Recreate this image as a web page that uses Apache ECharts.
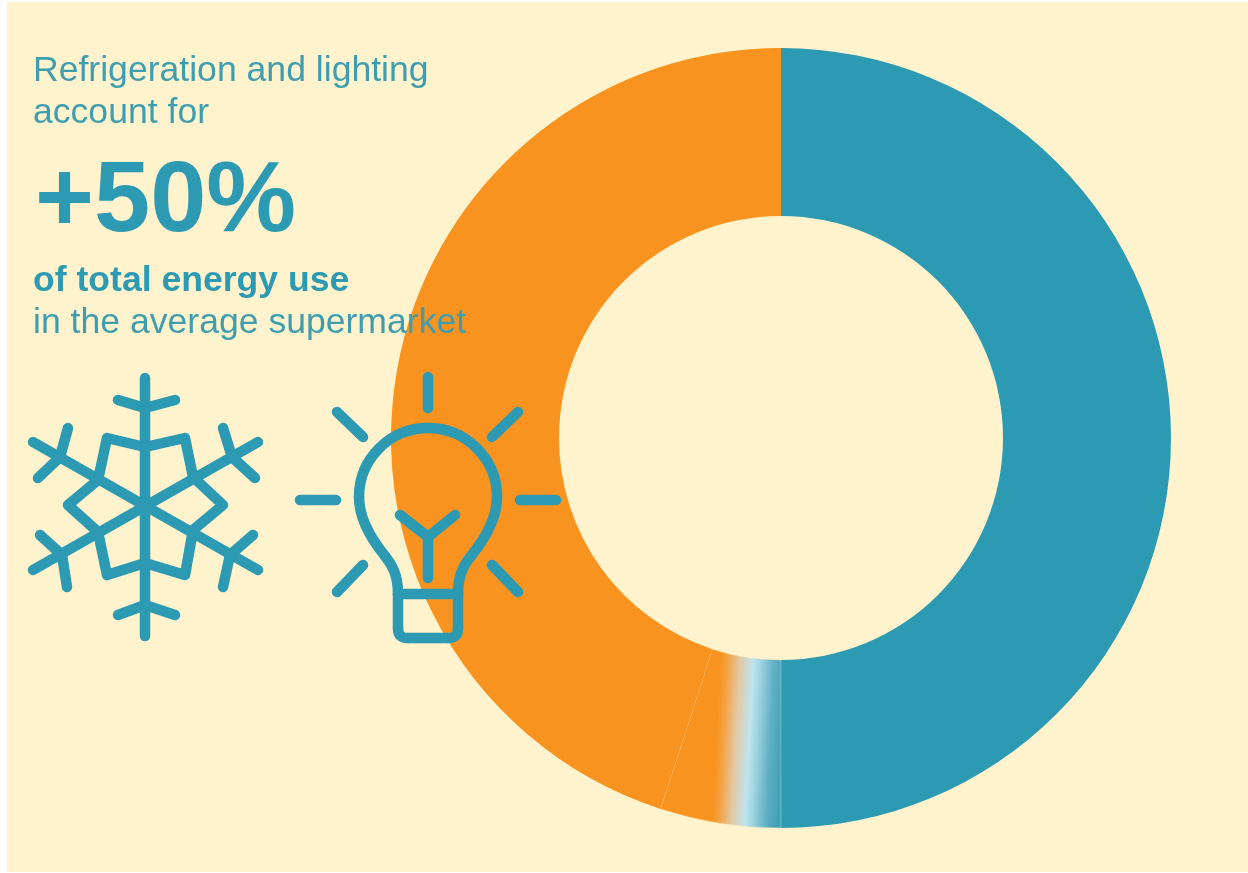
<!DOCTYPE html>
<html><head><meta charset="utf-8">
<style>html,body{margin:0;padding:0;background:#fff;overflow:hidden}#c{width:1248px;height:873px}</style>
<script src="https://cdn.jsdelivr.net/npm/echarts@6/dist/echarts.min.js"></script>
</head><body><div id="c"></div>
<script>
const categories = ['Refrigeration and lighting', 'Transition', 'Other'];
const values = [50, 5, 45];
const textLines = ['Refrigeration and lighting', 'account for', '+50%', 'of total energy use', 'in the average supermarket'];

const TEAL = '#2C9AB2', ORANGE = '#F7931E', CREAM = '#FEF3CD', INK = '#3F9DB0';
const blend = {
  type: 'linear', global: true, x: 716, y: 740, x2: 782, y2: 743.5,
  colorStops: [
    {offset: 0, color: ORANGE}, {offset: 0.12, color: '#F3A449'},
    {offset: 0.3, color: '#E2C9A4'}, {offset: 0.5, color: '#BFE4EE'},
    {offset: 0.6, color: '#A4D6E3'}, {offset: 0.82, color: '#5FB0C4'},
    {offset: 1, color: '#3FA1B8'}
  ]
};
const sliceStyles = [
  {color: TEAL},
  {color: blend, borderColor: 'rgba(255,236,190,0.45)', borderWidth: 0.8},
  {color: ORANGE}
];

const stroke = {stroke: TEAL, lineWidth: 10.5, lineCap: 'round', lineJoin: 'round', fill: null};
const line = (x1, y1, x2, y2) => ({type: 'line', z: 20, shape: {x1, y1, x2, y2}, style: stroke});
const poly = (points) => ({type: 'polyline', z: 20, shape: {points}, style: stroke});
const curve = (x1, y1, cpx1, cpy1, cpx2, cpy2, x2, y2) =>
  ({type: 'bezierCurve', z: 20, shape: {x1, y1, cpx1, cpy1, cpx2, cpy2, x2, y2}, style: stroke});
const label = (i, x, y, size, weight, color) => ({
  type: 'text', z: 20, x, y,
  style: {text: textLines[i], fontFamily: 'Liberation Sans', fontSize: size,
          fontWeight: weight, fill: color, textBaseline: 'top', textAlign: 'left'}
});

const snowflake = [
  line(145, 378, 145, 636), line(33, 442, 258, 570), line(258, 442, 33, 570),
  poly([[118, 400], [145, 408], [175, 400]]), poly([[118, 615], [145, 605], [175, 615]]),
  poly([[68, 428], [60, 457], [38, 478]]),
  poly([[223, 428], [232, 457], [255, 478]]),
  poly([[40, 535], [62, 555], [67, 587]]),
  poly([[253, 535], [230, 555], [223, 587]]),
  poly([[145, 447], [107, 438], [98, 480], [68, 505], [98, 532], [107, 575], [145, 563],
        [185, 575], [193, 530], [223, 505], [193, 477], [185, 438], [145, 447]])
];
const bulb = [
  line(428, 377, 428, 408), line(337, 412, 363, 437), line(518, 412, 492, 437),
  line(300, 500, 336, 500), line(520, 500, 556, 500), line(363, 565, 337, 592), line(492, 565, 518, 592),
  {type: 'arc', z: 20, shape: {cx: 428, cy: 497, r: 69, startAngle: Math.PI, endAngle: 2 * Math.PI, clockwise: true}, style: stroke},
  curve(359, 497, 359, 520, 372, 540, 385, 556), curve(385, 556, 393, 566, 398, 576, 398, 594),
  curve(497, 497, 497, 520, 484, 540, 471, 556), curve(471, 556, 463, 566, 458, 576, 458, 594),
  line(398, 594, 458, 594),
  poly([[398, 594], [398, 628]]), poly([[458, 594], [458, 628]]),
  curve(398, 628, 398, 635, 401, 638, 408, 638), curve(458, 628, 458, 635, 455, 638, 448, 638),
  line(408, 638, 448, 638),
  poly([[400, 515], [428, 537], [455, 515]]), line(428, 537, 428, 578)
];

const chart = echarts.init(document.getElementById('c'), null, {renderer: 'canvas'});
chart.setOption({
  animation: false,
  backgroundColor: '#fff',
  graphic: {elements: [
    {type: 'rect', z: -10, shape: {x: 7, y: 2, width: 1241, height: 870}, style: {fill: CREAM}},
    label(0, 33, 53, 35.6, 'normal', INK),
    label(1, 33, 95, 35.6, 'normal', INK),
    label(2, 35, 153, 101, 'bold', TEAL),
    label(3, 33, 263, 35.6, 'bold', TEAL),
    label(4, 33, 305, 35.6, 'normal', INK),
    ...snowflake, ...bulb
  ]},
  series: [{
    type: 'pie', silent: true, center: [781, 438], radius: [222, 390],
    startAngle: 90, clockwise: true, label: {show: false}, labelLine: {show: false},
    data: categories.map((name, i) => ({name, value: values[i], itemStyle: sliceStyles[i]}))
  }]
});
</script></body></html>
